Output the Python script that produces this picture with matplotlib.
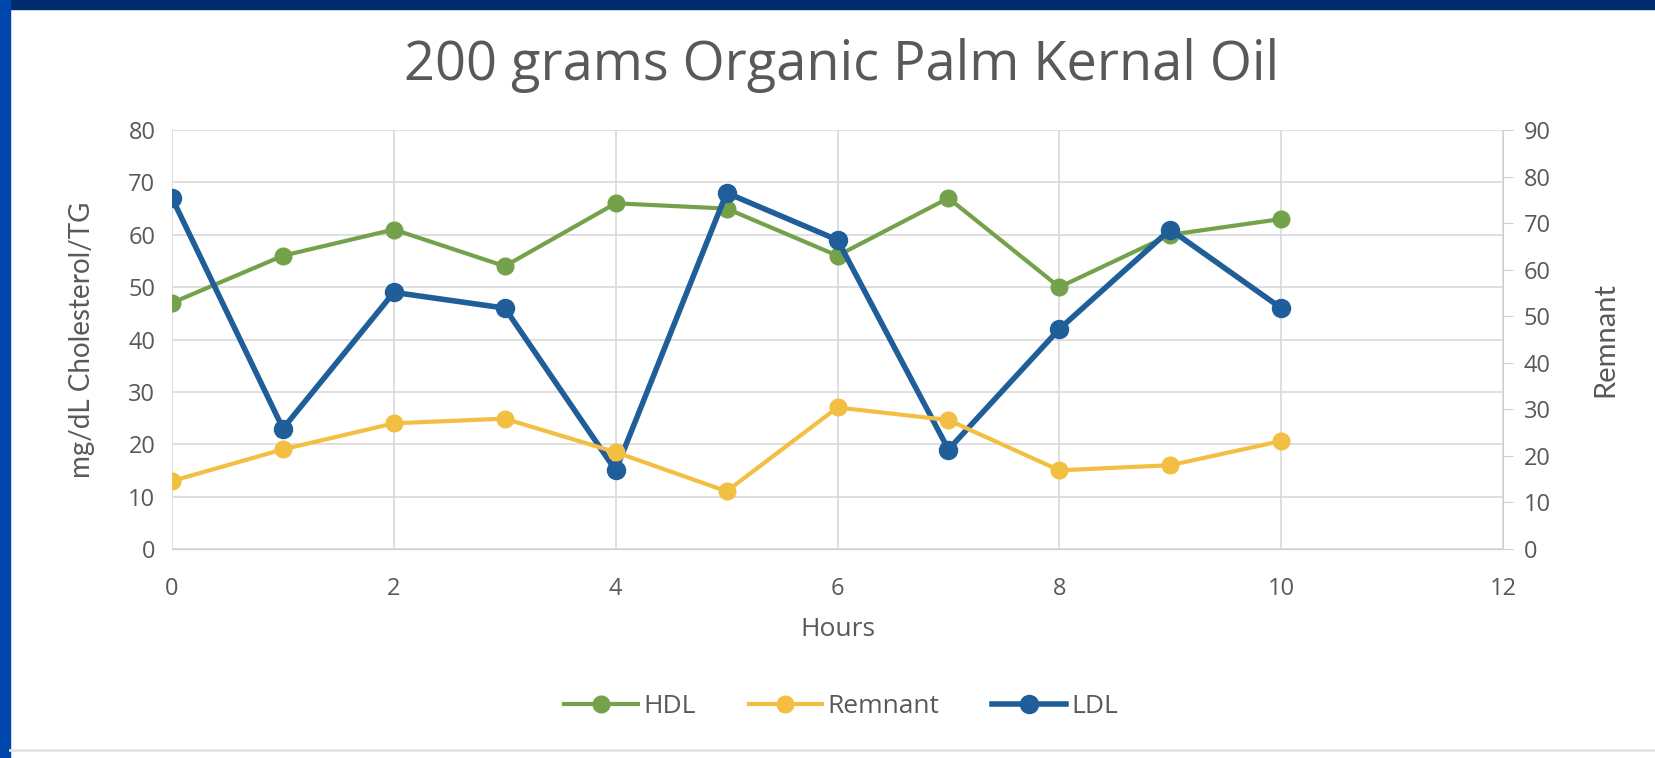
import matplotlib.pyplot as plt
from matplotlib.patches import Rectangle
from matplotlib.lines import Line2D

hours = [0, 1, 2, 3, 4, 5, 6, 7, 8, 9, 10]
hdl = [47, 56, 61, 54, 66, 65, 56, 67, 50, 60, 63]
ldl = [67, 23, 49, 46, 15, 68, 59, 19, 42, 61, 46]
# remnant is read on the right axis (0-90)
remnant = [14.6, 21.4, 27, 28, 20.8, 12.4, 30.4, 27.7, 16.9, 18, 23.2]

green = '#74a24a'
yellow = '#f3bf42'
blue = '#1f5e99'
grid_c = '#d9d9d9'
text_c = '#595959'

fig = plt.figure(figsize=(16.56, 7.58), dpi=100)
fig.patch.set_facecolor('white')

# dark blue slide frame
fig.patches.append(Rectangle((0, 1 - 9 / 758), 1, 9 / 758, transform=fig.transFigure,
                             color='#002b6e', zorder=0))
fig.patches.append(Rectangle((0, 0), 10 / 1656, 1, transform=fig.transFigure,
                             color='#0047ab', zorder=0))
fig.add_artist(Line2D([10 / 1656, 1], [8 / 758, 8 / 758], transform=fig.transFigure,
                      color='#e3e3e3', lw=2))

ax = fig.add_axes([0.1039, 0.2757, 0.8037, 0.5528])
ax2 = ax.twinx()

ax.plot(hours, hdl, color=green, lw=3, marker='o', ms=12, zorder=3)
ax.plot(hours, ldl, color=blue, lw=4, marker='o', ms=13, zorder=4)
ax2.plot(hours, remnant, color=yellow, lw=3, marker='o', ms=12, zorder=3)

ax.set_xlim(0, 12)
ax.set_ylim(0, 80)
ax2.set_ylim(0, 90)
ax.set_xticks(range(0, 13, 2))
ax.set_yticks(range(0, 81, 10))
ax2.set_yticks(range(0, 91, 10))

ax.grid(True, color=grid_c, lw=1.2)
ax.set_axisbelow(True)
for a in (ax, ax2):
    for s in ('top', 'left', 'right'):
        a.spines[s].set_visible(False)
    a.spines['bottom'].set_color('#cfcfcf')
ax2.spines['right'].set_visible(True)
ax2.spines['right'].set_color('#cfcfcf')

ax.tick_params(axis='x', length=0, labelcolor=text_c, pad=20)
ax.tick_params(axis='y', length=0, labelcolor=text_c, pad=12)
ax2.tick_params(axis='y', length=7, color='#cfcfcf', labelcolor=text_c, pad=8)
for lab in ax.get_xticklabels() + ax.get_yticklabels() + ax2.get_yticklabels():
    lab.set_fontfamily('Open Sans')
    lab.set_fontsize(17)

ax.set_xlabel('Hours', family='Open Sans', size=19, color=text_c, labelpad=12)
ax.set_ylabel('mg/dL Cholesterol/TG', family='Lato', size=20, color=text_c, labelpad=24)
ax2.set_ylabel('Remnant', family='Lato', size=21, color=text_c, labelpad=30)

fig.text(0.508, 0.913, '200 grams Organic Palm Kernal Oil', family='Open Sans',
         size=39, color=text_c, ha='center', va='center')

handles = [Line2D([], [], color=green, lw=3, marker='o', ms=12),
           Line2D([], [], color=yellow, lw=3, marker='o', ms=12),
           Line2D([], [], color=blue, lw=4, marker='o', ms=13)]
leg = fig.legend(handles, ['HDL', 'Remnant', 'LDL'], loc='center', ncol=3,
                 bbox_to_anchor=(0.508, 0.068), frameon=False, handlelength=2.8,
                 handletextpad=0.2, columnspacing=2.0,
                 prop={'family': 'Open Sans', 'size': 19})
for t in leg.get_texts():
    t.set_color(text_c)

fig.savefig('out.png', dpi=100)
